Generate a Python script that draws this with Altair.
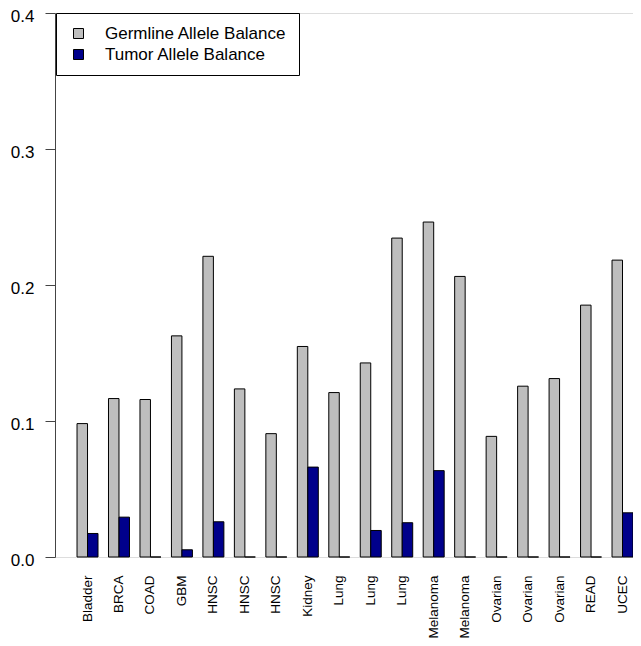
import json
import altair as alt
import pandas as pd

names = ["Bladder", "BRCA", "COAD", "GBM", "HNSC", "HNSC", "HNSC", "Kidney",
         "Lung", "Lung", "Lung", "Melanoma", "Melanoma", "Ovarian", "Ovarian",
         "Ovarian", "READ", "UCEC"]
germline = [0.0981, 0.1165, 0.1158, 0.1626, 0.2211, 0.1236, 0.0907, 0.1548,
            0.1209, 0.1427, 0.2345, 0.2463, 0.2063, 0.0887, 0.1256, 0.1312,
            0.1852, 0.2183]
tumor = [0.0173, 0.0293, 0.0, 0.0053, 0.0259, 0.0, 0.0, 0.0661,
         0.0, 0.0195, 0.0252, 0.0635, 0.0, 0.0, 0.0, 0.0,
         0.0, 0.0325]
series = ["Germline Allele Balance", "Tumor Allele Balance"]
colors = ["#BEBEBE", "#00008B"]
y_ticks = [0.0, 0.1, 0.2, 0.3, 0.4]

rows = []
for i, n in enumerate(names):
    rows.append({"idx": i, "name": n, "series": series[0], "value": germline[i]})
    rows.append({"idx": i, "name": n, "series": series[1], "value": tumor[i]})
df = pd.DataFrame(rows)

FONT = "Liberation Sans"
label_expr = json.dumps(names) + "[datum.value]"

chart = alt.Chart(df).mark_bar(stroke="black", strokeWidth=1).encode(
    x=alt.X("idx:O",
            scale=alt.Scale(paddingInner=1/3, paddingOuter=0.35, align=1, round=False),
            axis=alt.Axis(title=None, labelExpr=label_expr, labelAngle=-90,
                          domain=False, ticks=False, tickSize=0, labelPadding=18,
                          labelFontSize=13.5, labelFont=FONT, labelColor="black",
                          labelLimit=200)),
    xOffset=alt.XOffset("series:N", sort=series),
    y=alt.Y("value:Q",
            scale=alt.Scale(domain=[0, 0.4], nice=False, zero=True),
            axis=alt.Axis(title=None, values=y_ticks, format=".1f", grid=False,
                          tickSize=10, labelPadding=11, labelFontSize=17,
                          labelOffset=3,
                          labelFont=FONT, labelColor="black",
                          domainColor="#444", tickColor="#444")),
    color=alt.Color("series:N",
                    scale=alt.Scale(domain=series, range=colors),
                    legend=alt.Legend(title=None, orient="none", legendX=1, legendY=0,
                                      strokeColor="black", fillColor="white",
                                      padding=12, symbolType="square",
                                      symbolSize=100, symbolStrokeColor="black",
                                      symbolStrokeWidth=1, symbolOpacity=1,
                                      symbolOffset=2,
                                      labelFontSize=17, labelFont=FONT,
                                      labelColor="black", labelOffset=18,
                                      labelLimit=400,
                                      rowPadding=3, cornerRadius=0)),
).properties(
    width=578,
    height=544,
    autosize=alt.AutoSizeParams(type="none"),
    padding={"left": 47, "top": 5, "right": 0, "bottom": 81},
).configure_view(strokeWidth=0).configure(font=FONT)

chart.save("out.html", embed_options={"renderer": "svg", "actions": False})
